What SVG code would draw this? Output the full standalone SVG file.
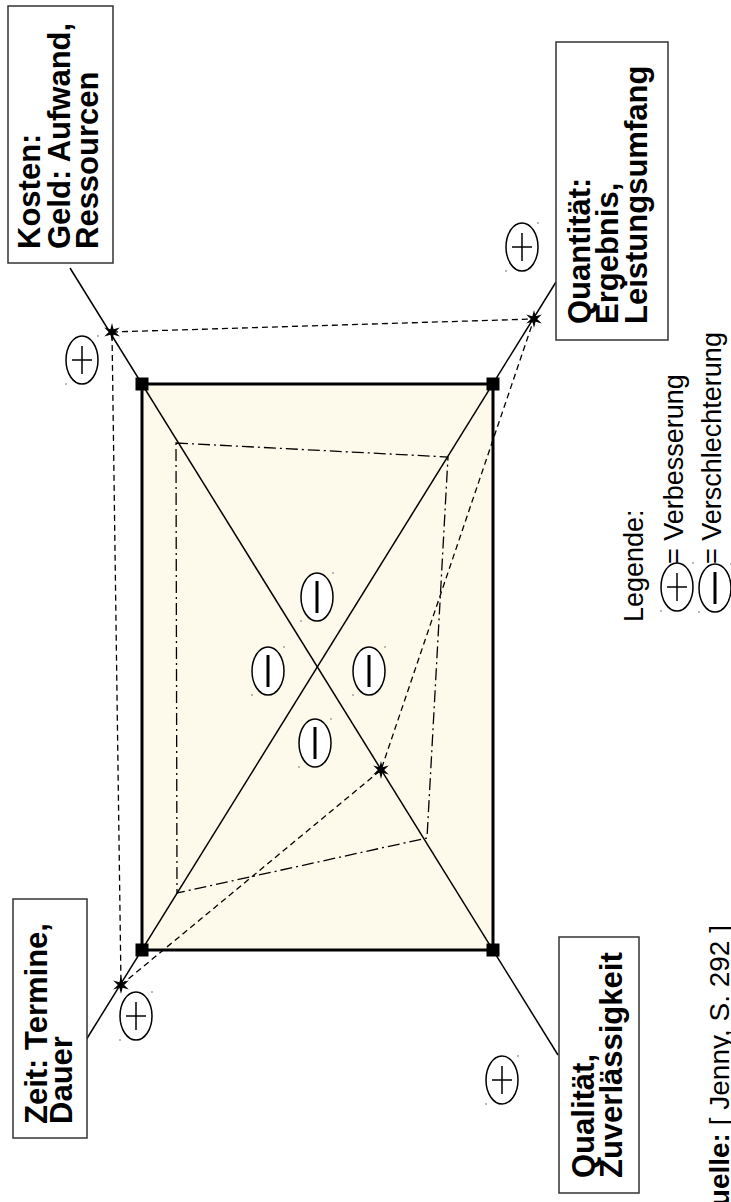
<svg xmlns="http://www.w3.org/2000/svg" xmlns:xlink="http://www.w3.org/1999/xlink" width="731" height="1202" viewBox="0 0 731 1202">
<style>
.box{fill:#fff;stroke:#333;stroke-width:1.5}
.bt{font-family:"Liberation Sans",Arial,sans-serif;font-weight:bold;font-size:31px;fill:#000}
.lt{font-family:"Liberation Sans",Arial,sans-serif;font-size:27px;fill:#000}
.qt{font-family:"Liberation Sans",Arial,sans-serif;font-size:28px;fill:#000}
.diag{stroke:#000;stroke-width:1.5;fill:none}
.dash{stroke:#000;stroke-width:1.3;fill:none;stroke-dasharray:6 4}
.dashdot{stroke:#000;stroke-width:1.3;fill:none;stroke-dasharray:12 4 2 4}
.ell{fill:#fff;stroke:#000;stroke-width:1.5}
.pl{stroke:#000;stroke-width:1.5}
.mi{stroke:#000;stroke-width:3}
.dot{fill:#999}
</style>
<defs>
<polygon id="star" points="0,-9 1.6,-2.8 7.8,-4.5 3.2,0 7.8,4.5 1.6,2.8 0,9 -1.6,2.8 -7.8,4.5 -3.2,0 -7.8,-4.5 -1.6,-2.8" fill="#000"/>
<g id="plus">
<ellipse class="ell" cx="0" cy="0" rx="16" ry="24"/>
<line class="pl" x1="0" y1="-14" x2="0" y2="14"/>
<line class="pl" x1="-10" y1="0" x2="10" y2="0"/>
<circle class="dot" cx="16" cy="-24" r="0.9"/>
<circle class="dot" cx="-16" cy="24" r="0.9"/>
</g>
<g id="minus">
<ellipse class="ell" cx="0" cy="0" rx="16" ry="24"/>
<line class="mi" x1="0" y1="-16" x2="0" y2="16"/>
<circle class="dot" cx="16" cy="-24" r="0.9"/>
<circle class="dot" cx="-16" cy="24" r="0.9"/>
</g>
<rect id="corner" x="-6.5" y="-6.5" width="13" height="13" fill="#000"/>
</defs>

<g id="area">
<rect x="142" y="384" width="351" height="566" fill="#fdf9eb" stroke="#000" stroke-width="3"/>
</g>

<g id="connectors">
<line class="diag" x1="70" y1="268" x2="558" y2="1055"/>
<line class="diag" x1="86" y1="1040" x2="556" y2="282"/>
<polygon class="dash" points="112,332 534,319 381,770 121,985"/>
<polygon class="dashdot" points="176,443 448,457 427,838 177,893"/>
</g>

<g id="corners">
<use xlink:href="#corner" x="142" y="384"/>
<use xlink:href="#corner" x="493" y="384"/>
<use xlink:href="#corner" x="142" y="950"/>
<use xlink:href="#corner" x="493" y="950"/>
</g>

<g id="stars">
<use xlink:href="#star" x="112" y="332"/>
<use xlink:href="#star" x="534" y="319"/>
<use xlink:href="#star" x="381" y="770"/>
<use xlink:href="#star" x="121" y="985"/>
</g>

<g id="ratings">
<use xlink:href="#plus" x="82" y="360"/>
<use xlink:href="#plus" x="522" y="247"/>
<use xlink:href="#plus" x="136" y="1016"/>
<use xlink:href="#plus" x="502" y="1080"/>
<use xlink:href="#minus" x="317" y="597"/>
<use xlink:href="#minus" x="268" y="671"/>
<use xlink:href="#minus" x="369" y="671"/>
<use xlink:href="#minus" x="315" y="743"/>
</g>

<g id="box-kosten">
<rect class="box" x="8" y="6" width="105" height="257"/>
<text class="bt" transform="translate(40,249) rotate(-90)">Kosten:</text>
<text class="bt" transform="translate(70,249) rotate(-90)">Geld: Aufwand,</text>
<text class="bt" transform="translate(98,249) rotate(-90)">Ressourcen</text>
</g>

<g id="box-quantitaet">
<rect class="box" x="556" y="42" width="112" height="298"/>
<text class="bt" transform="translate(590,324) rotate(-90)">Quantität:</text>
<text class="bt" transform="translate(618,324) rotate(-90)">Ergebnis,</text>
<text class="bt" transform="translate(647,324) rotate(-90)">Leistungsumfang</text>
</g>

<g id="box-zeit">
<rect class="box" x="13" y="899" width="74" height="239"/>
<text class="bt" transform="translate(47,1124) rotate(-90)">Zeit: Termine,</text>
<text class="bt" transform="translate(72,1124) rotate(-90)">Dauer</text>
</g>

<g id="box-qualitaet">
<rect class="box" x="559" y="937" width="80" height="256"/>
<text class="bt" transform="translate(594,1178) rotate(-90)">Qualität,</text>
<text class="bt" transform="translate(622,1178) rotate(-90)">Zuverlässigkeit</text>
</g>

<g id="legend">
<text class="lt" transform="translate(643,622) rotate(-90)">Legende:</text>
<use xlink:href="#plus" x="677" y="587"/>
<text class="lt" transform="translate(683,564) rotate(-90)">= Verbesserung</text>
<use xlink:href="#minus" x="715" y="588"/>
<text class="lt" transform="translate(721,564) rotate(-90)">= Verschlechterung</text>
</g>

<g id="source">
<text class="qt" transform="translate(729,1228) rotate(-90)"><tspan font-weight="bold">Quelle:</tspan> [ Jenny, S. 292 ]</text>
</g>
</svg>
